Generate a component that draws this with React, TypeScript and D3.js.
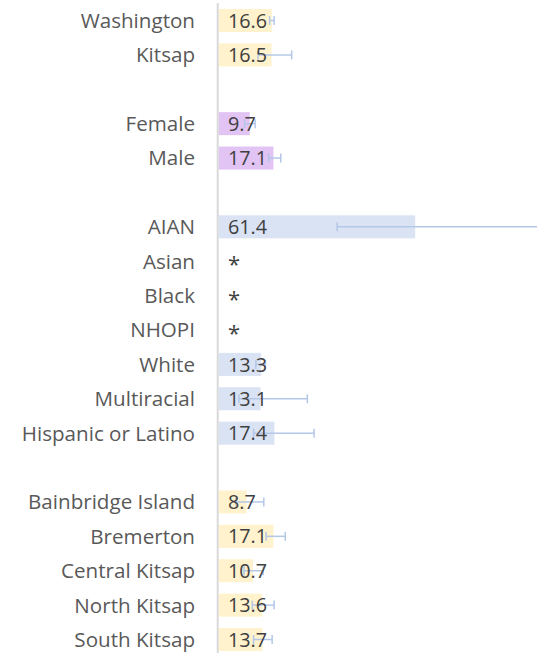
import React from "react";
import * as d3 from "d3";

// Rates per row, grouped; null = suppressed (shown as "*")
const categories = [
  "Washington", "Kitsap",
  "Female", "Male",
  "AIAN", "Asian", "Black", "NHOPI", "White", "Multiracial", "Hispanic or Latino",
  "Bainbridge Island", "Bremerton", "Central Kitsap", "North Kitsap", "South Kitsap",
];
const groups = [
  "geo", "geo",
  "sex", "sex",
  "race", "race", "race", "race", "race", "race", "race",
  "district", "district", "district", "district", "district",
];
const rates: (number | null)[] = [
  16.6, 16.5,
  9.7, 17.1,
  61.4, null, null, null, 13.3, 13.1, 17.4,
  8.7, 17.1, 10.7, 13.6, 13.7,
];
const ciLow: (number | null)[] = [
  15.9, 12.3,
  8.1, 15.6,
  37.0, null, null, null, 11.6, 6.3, 10.9,
  5.4, 14.8, 7.9, 10.5, 10.9,
];
const ciHigh: (number | null)[] = [
  17.3, 22.8,
  11.4, 19.4,
  100, null, null, null, 14.6, 27.7, 29.8,
  14.1, 20.8, 13.9, 17.3, 16.7,
];

const groupColors: Record<string, string> = {
  geo: "#fff2cc",
  sex: "#e2c4f4",
  race: "#dae3f3",
  district: "#fff2cc",
};

const W = 537;
const H = 653;
const FONT = "'Open Sans', Lato, sans-serif";

export default function App() {
  // Row slots with a blank slot between groups
  const slots: string[] = [];
  categories.forEach((c, i) => {
    if (i > 0 && groups[i] !== groups[i - 1]) slots.push(`gap-${i}`);
    slots.push(c);
  });

  const y = d3.scalePoint<string>().domain(slots).range([20.5, 639.5]);
  const step = y.step();
  const barH = step * 0.67;
  const x = d3.scaleLinear().domain([0, 100]).range([218.7, 538.7]);
  const capH = 9;

  return (
    <div style={{ position: "absolute", left: 0, top: 0 }}>
      <svg width={W} height={H} style={{ display: "block" }} fontFamily={FONT}>
        <rect width={W} height={H} fill="#ffffff" />
        {categories.map((c, i) => {
          const cy = y(c)!;
          const v = rates[i];
          return (
            <g key={c}>
              <text
                x={195}
                y={cy}
                dy="0.36em"
                textAnchor="end"
                fontSize={20.6}
                fill="#595959"
              >
                {c}
              </text>
              {v != null && (
                <rect
                  x={x(0)}
                  y={cy - barH / 2}
                  width={x(v) - x(0)}
                  height={barH}
                  fill={groupColors[groups[i]]}
                />
              )}
            </g>
          );
        })}
        {categories.map((c, i) => {
          const lo = ciLow[i];
          const hi = ciHigh[i];
          if (lo == null || hi == null) return null;
          const cy = y(c)!;
          return (
            <g key={`err-${c}`} stroke="#b4c7e7" strokeWidth={1.5}>
              <line x1={x(lo)} x2={x(hi)} y1={cy} y2={cy} />
              <line x1={x(lo)} x2={x(lo)} y1={cy - capH / 2} y2={cy + capH / 2} />
              <line x1={x(hi)} x2={x(hi)} y1={cy - capH / 2} y2={cy + capH / 2} />
            </g>
          );
        })}
        <line x1={217.7} x2={217.7} y1={3} y2={H} stroke="#d9d9d9" strokeWidth={2} />
        {categories.map((c, i) => {
          const cy = y(c)!;
          const v = rates[i];
          return (
            <text
              key={`val-${c}`}
              x={228}
              y={cy}
              dy={v == null ? "0.5em" : "0.36em"}
              fontSize={v == null ? 22 : 19.8}
              fill="#404040"
            >
              {v == null ? "*" : v.toFixed(1)}
            </text>
          );
        })}
      </svg>
    </div>
  );
}
